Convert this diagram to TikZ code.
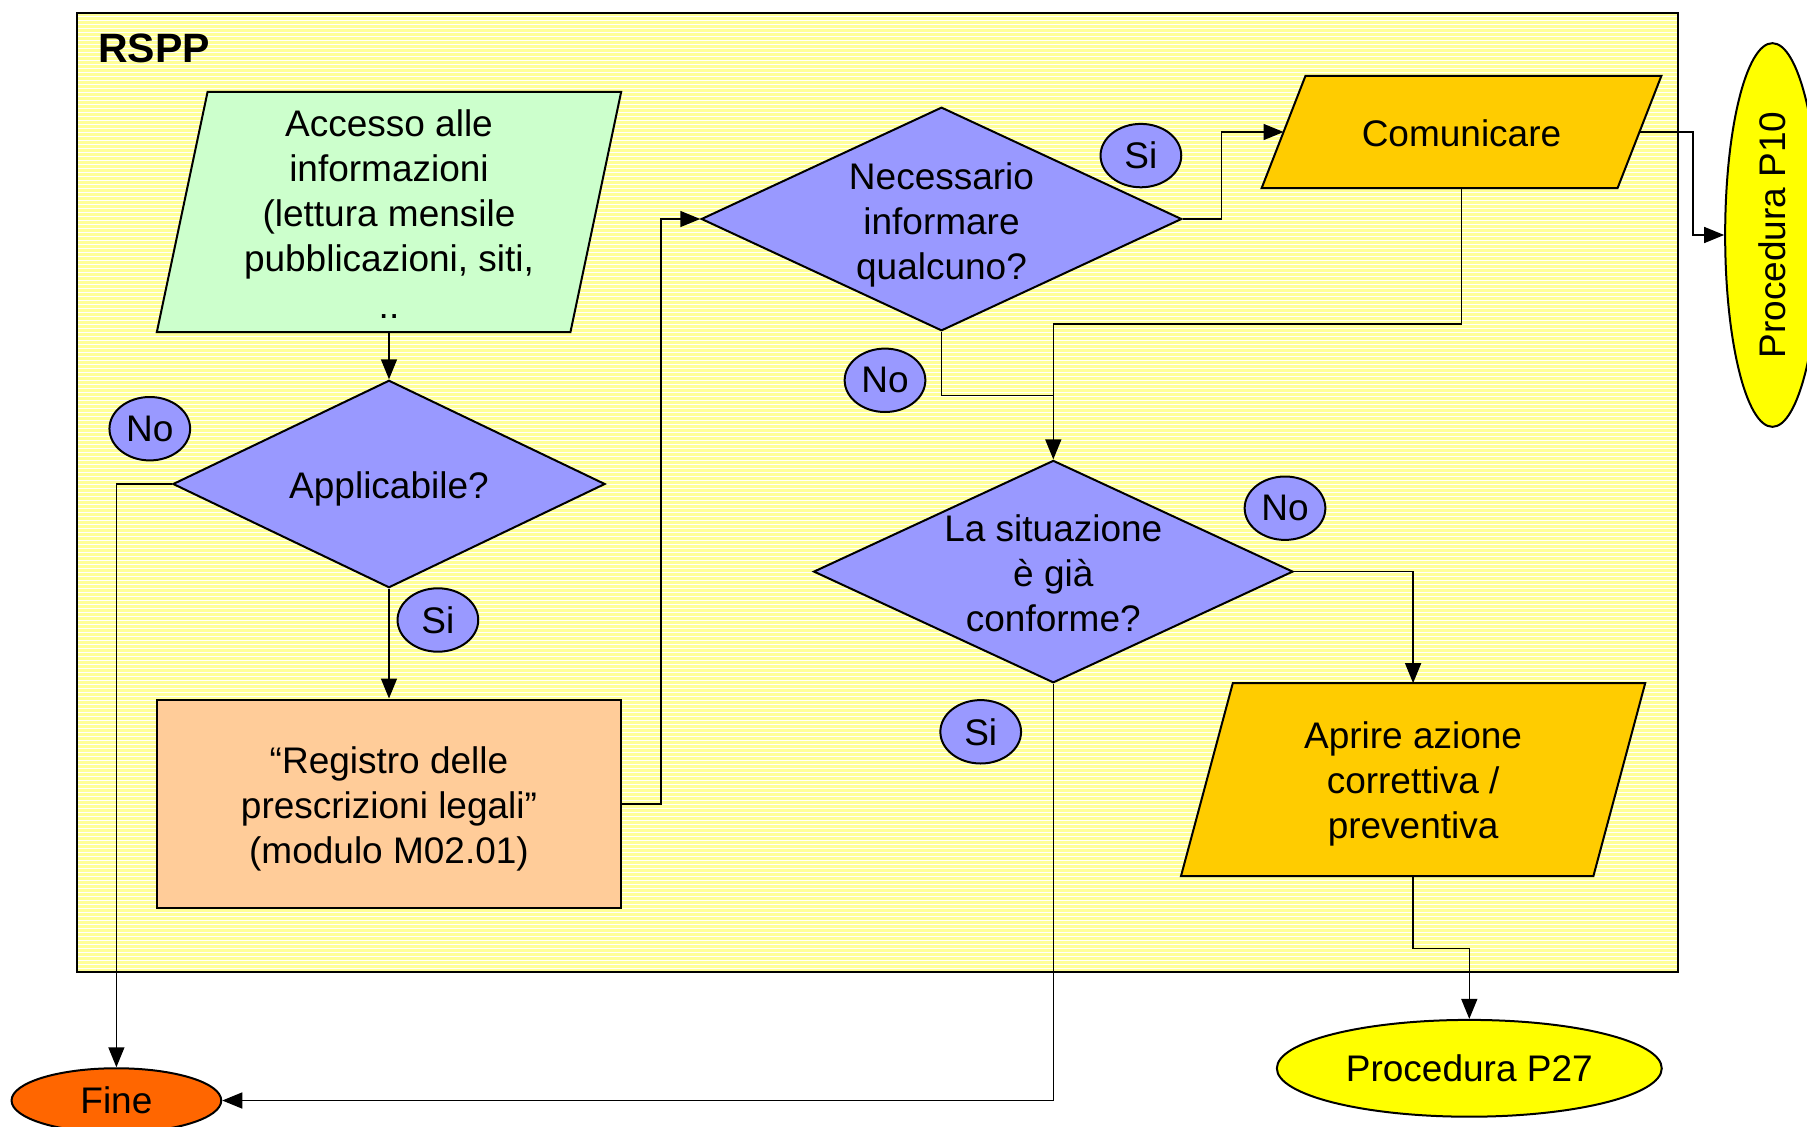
\documentclass[tikz,border=0pt]{standalone}
\usepackage{fontspec}
\usepackage{graphicx}
\setmainfont{Liberation Sans}
\usetikzlibrary{shapes.geometric,arrows.meta,calc}
\pgfdeclarelayer{bgrect}
\pgfdeclarelayer{background}
\pgfsetlayers{bgrect,background,main}
\definecolor{dia}{HTML}{9999FF}
\definecolor{grn}{HTML}{CCFFCC}
\definecolor{peach}{HTML}{FFCC99}
\definecolor{gold}{HTML}{FFCC00}
\definecolor{yel}{HTML}{FFFF00}
\definecolor{orng}{HTML}{FF6600}
\definecolor{bgy}{HTML}{FFFF99}
\newcommand\mainfs{\fontsize{37}{45}\selectfont}
\newcommand\parashape[3]{%
  \filldraw[fill=#3, draw=black, line width=2pt, line join=miter]
    ([xshift=-#2]#1.south west) -- ([xshift=#2]#1.north west) --
    ([xshift=#2]#1.north east) -- ([xshift=-#2]#1.south east) -- cycle;}
\begin{document}
\begin{tikzpicture}[x=1pt,y=-1pt,
  base/.style={draw=black, line width=2pt, inner sep=0pt, font=\mainfs, align=center},
  dec/.style={base, shape=diamond, fill=dia},
  lbl/.style={font=\mainfs, align=center, inner sep=0pt},
  tag/.style={base, shape=ellipse, fill=dia, minimum width=80.7pt, minimum height=63.4pt},
  term/.style={base, shape=ellipse},
  para/.style={inner sep=0pt, font=\mainfs, align=center},
  conn/.style={draw=black, line width=1.5pt, -{Triangle[length=20pt,width=16pt]}},
  wire/.style={draw=black, line width=1.5pt}]
\useasboundingbox (0,0) rectangle (1807,1127);

% nodes
\node[font=\fontsize{41}{49}\selectfont\bfseries, anchor=west, inner sep=0pt] (rspp) at (98,48.4) {RSPP};
\node[para, minimum width=413.2pt, minimum height=239.7pt,
  label={[lbl,yshift=-2.5pt]center:{Accesso alle\\informazioni\\(lettura mensile\\pubblicazioni, siti,\\[2pt]..}}] (acc) at (389,212) {};
\node[dec, minimum width=432.2pt, minimum height=207.4pt,
  label={[lbl,yshift=-4.6pt]center:{Applicabile?}}] (app) at (389,484) {};
\node[tag] (no1) at (149.8,428.7) {No};
\node[tag] (si1) at (437.9,620) {Si};
\node[base, rectangle, fill=peach, minimum width=464.4pt, minimum height=208.6pt,
  label={[lbl,yshift=-5pt]center:{“Registro delle\\prescrizioni legali”\\(modulo M02.01)}}] (reg) at (389,803.8) {};
\node[dec, minimum width=480.5pt, minimum height=223.6pt,
  label={[lbl,yshift=-5.5pt]center:{Necessario\\informare\\qualcuno?}}] (nec) at (941.5,219) {};
\node[tag] (si2) at (1140.9,155.6) {Si};
\node[tag] (no2) at (885,380.3) {No};
\node[para, minimum width=355.5pt, minimum height=111.8pt,
  label={[lbl,yshift=-1pt]center:{Comunicare}}] (com) at (1461.5,132) {};
\node[term, fill=yel, minimum width=94.5pt, minimum height=383.7pt] (p10) at (1772.4,235) {\rotatebox{90}{Procedura P10}};
\node[dec, minimum width=479.4pt, minimum height=222.4pt,
  label={[lbl,yshift=-1.8pt]center:{La situazione\\è già\\conforme?}}] (sit) at (1053.3,571.6) {};
\node[tag] (no3) at (1285,508.2) {No};
\node[tag] (si3) at (980.7,731.8) {Si};
\node[para, minimum width=412pt, minimum height=192.5pt,
  label={[lbl,yshift=-4.6pt]center:{Aprire azione\\correttiva /\\preventiva}}] (apr) at (1413.1,779.6) {};
\node[term, fill=yel, minimum width=384.9pt, minimum height=96.8pt] (p27) at (1469.3,1068.3) {Procedura P27};
\node[term, fill=orng, minimum width=209.7pt, minimum height=64.5pt] (fine) at (116.4,1100.5) {Fine};

% pool background
\begin{pgfonlayer}{bgrect}
  \fill[white] (0,0) rectangle (1807,1127);
  \fill[bgy] (77.2,12.7) rectangle (1677.9,971.5);
  \foreach \k in {0,...,238} \draw[white, line width=1pt] (78,{16+4*\k}) -- (1677,{16+4*\k});
  \draw[line width=2pt] (77.2,12.7) rectangle (1677.9,971.5);
\end{pgfonlayer}
\begin{pgfonlayer}{background}
  \parashape{acc}{25.35pt}{grn}
  \parashape{com}{21.9pt}{gold}
  \parashape{apr}{25.9pt}{gold}
\end{pgfonlayer}

% helper coordinates
\coordinate (c1) at ($(reg.east)!0.5!(nec.west)$);
\coordinate (c2) at (1221.5,0);
\coordinate (c3) at (1692.9,0);
\coordinate (c4) at (0,323.8);
\coordinate (c5) at (0,395.3);
\coordinate (c6) at (0,948.4);

% connectors
\draw[conn] (acc.south) -- (app.north);
\draw[conn] (app.south) -- (reg.north);
\draw[conn] (app.west) -| (fine.north);
\draw[conn] (reg.east) -- (reg.east -| c1) -- (c1 |- nec.west) -- (nec.west);
\draw[conn] (nec.east) -- (nec.east -| c2) |- (com.west);
\draw[conn] (com.east) -- (com.east -| c3) |- (p10.west);
\draw[conn] (com.south) -- (com.south |- c4) -| (sit.north);
\draw[wire] (nec.south) |- (sit.north |- c5);
\draw[conn] (sit.east) -| (apr.north);
\draw[conn] (apr.south) -- (apr.south |- c6) -| (p27.north);
\draw[conn] (sit.south) |- (fine.east);
\end{tikzpicture}
\end{document}
